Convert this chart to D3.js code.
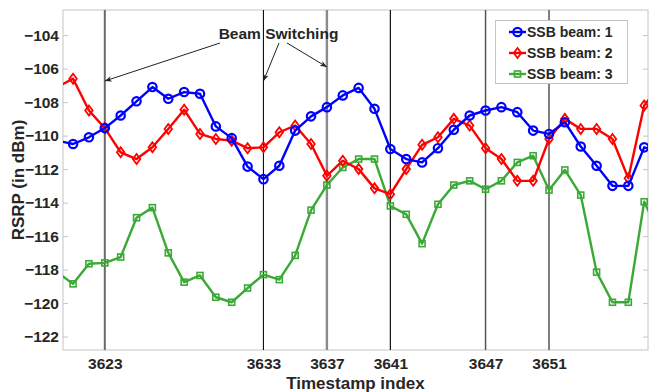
<!DOCTYPE html>
<html>
<head>
<meta charset="utf-8">
<script src="https://cdn.jsdelivr.net/npm/d3@7"></script>
<style>
  body { margin: 0; background: #fff; }
  svg text { font-family: "Liberation Sans", Arial, sans-serif; font-weight: bold; fill: #262626; }
</style>
</head>
<body>
<script>
// timestamps and RSRP per SSB beam
const stamps = d3.range(3620, 3659);
const beam1 = [-110.3, -110.5, -110.1, -109.55, -108.8, -107.95, -107.1, -107.8, -107.4, -107.5, -109.45,
  -110.15, -111.85, -112.6, -111.8, -109.7, -108.85, -108.3, -107.6, -107.15, -108.4, -110.8, -111.4,
  -111.6, -110.75, -109.65, -108.8, -108.5, -108.3, -108.6, -109.7, -109.9, -109.2, -110.65, -111.8,
  -113.0, -113.0, -110.7, -111.0];
const beam2 = [-107.1, -106.6, -108.5, -109.55, -111.0, -111.4, -110.7, -109.6, -108.45, -109.9, -110.2,
  -110.3, -110.75, -110.7, -109.8, -109.4, -110.5, -112.4, -111.5, -112.0, -113.15, -113.5, -112.0,
  -110.55, -110.1, -109.0, -109.4, -110.75, -111.4, -112.7, -112.7, -110.2, -109.0, -109.6, -109.6,
  -110.2, -112.55, -108.2, -107.0];
const beam3 = [-118.15, -118.85, -117.65, -117.6, -117.25, -114.9, -114.3, -117.0, -118.75, -118.35, -119.65,
  -119.95, -119.1, -118.3, -118.6, -117.15, -114.45, -112.95, -111.9, -111.4, -111.4, -114.2, -114.7,
  -116.45, -114.1, -112.95, -112.7, -113.2, -112.7, -111.6, -111.2, -113.25, -112.05, -113.55, -118.15,
  -119.95, -119.95, -113.95, -116.0];
const seriesNames = ["SSB beam: 1", "SSB beam: 2", "SSB beam: 3"];
const seriesColors = ["#0000ff", "#ff0000", "#3aa936"];
const switchStamps = [3623, 3633, 3637, 3641, 3647, 3651];
const yTicks = d3.range(-104, -123, -2);

const W = 649, H = 392;
const pL = 63, pR = 648, pT = 10, pB = 350;

const svg = d3.select("body").append("svg").attr("width", W).attr("height", H);

const x = d3.scaleLinear().domain([3620.365, 3657.24]).range([pL, pR]);
const y = d3.scaleLinear().domain([-122.8, -102.5]).range([pB, pT]);

svg.append("defs").append("clipPath").attr("id", "clip")
  .append("rect").attr("x", pL).attr("y", pT).attr("width", pR - pL).attr("height", pB - pT);

// box
svg.append("rect").attr("x", pL).attr("y", pT).attr("width", pR - pL).attr("height", pB - pT)
  .attr("fill", "none").attr("stroke", "#c4c4c4").attr("stroke-width", 1);

// y axis (ticks inward)
const yAx = svg.append("g").attr("transform", `translate(${pL},0)`)
  .call(d3.axisLeft(y).tickValues(yTicks).tickSize(-5).tickPadding(4).tickFormat(d3.format("d")));
yAx.select(".domain").remove();
yAx.selectAll("line").attr("stroke", "#c4c4c4");
yAx.selectAll("text").style("font-size", "15.5px").attr("fill", "#262626");

const yAxR = svg.append("g").attr("transform", `translate(${pR},0)`)
  .call(d3.axisRight(y).tickValues(yTicks).tickSize(-5).tickFormat(""));
yAxR.select(".domain").remove();
yAxR.selectAll("line").attr("stroke", "#c4c4c4");

// x axis
const xAx = svg.append("g").attr("transform", `translate(0,${pB})`)
  .call(d3.axisBottom(x).tickValues(switchStamps).tickSize(0).tickPadding(8).tickFormat(d3.format("d")));
xAx.select(".domain").remove();
xAx.selectAll("text").style("font-size", "15.5px").attr("fill", "#262626");

// beam switching lines
const lineStyle = [["#6a6a6a", 2], ["#111", 1.1], ["#8a8a8a", 2.4], ["#111", 1.2], ["#555", 1.5], ["#555", 1.5]];
svg.append("g").selectAll("line").data(switchStamps).join("line")
  .attr("x1", d => x(d)).attr("x2", d => x(d))
  .attr("y1", pT).attr("y2", pB)
  .attr("stroke", (d, i) => lineStyle[i][0])
  .attr("stroke-width", (d, i) => lineStyle[i][1]);

// series
const all = [beam1, beam2, beam3];
const line = d3.line().x((d, i) => x(stamps[i])).y(d => y(d));
const plot = svg.append("g").attr("clip-path", "url(#clip)");

function drawMarker(g, k, cx, cy, color) {
  if (k === 0) {
    g.append("circle").attr("cx", cx).attr("cy", cy).attr("r", 4.2)
      .attr("fill", "none").attr("stroke", color).attr("stroke-width", 2.2);
  } else if (k === 1) {
    const s = 5;
    g.append("path").attr("d", `M${cx},${cy - s}L${cx + s * 0.75},${cy}L${cx},${cy + s}L${cx - s * 0.75},${cy}Z`)
      .attr("fill", "none").attr("stroke", color).attr("stroke-width", 1.8);
  } else {
    g.append("rect").attr("x", cx - 3).attr("y", cy - 3).attr("width", 6).attr("height", 6)
      .attr("fill", "none").attr("stroke", color).attr("stroke-width", 1.6);
  }
}

[2, 1, 0].forEach(k => {
  const vals = all[k];
  plot.append("path").datum(vals).attr("d", line)
    .attr("fill", "none").attr("stroke", seriesColors[k]).attr("stroke-width", 2.4)
    .attr("stroke-linejoin", "round");
  const mg = plot.append("g");
  vals.forEach((v, i) => drawMarker(mg, k, x(stamps[i]), y(v), seriesColors[k]));
});

// legend
const lg = svg.append("g");
lg.append("rect").attr("x", 495.5).attr("y", 20.5).attr("width", 132).attr("height", 63)
  .attr("fill", "#fff").attr("stroke", "#c4c4c4");
seriesNames.forEach((name, k) => {
  const cy = 32 + k * 21;
  lg.append("line").attr("x1", 509).attr("x2", 526).attr("y1", cy).attr("y2", cy)
    .attr("stroke", seriesColors[k]).attr("stroke-width", 2.4);
  drawMarker(lg, k, 517.5, cy, seriesColors[k]);
  lg.append("text").attr("x", 527).attr("y", cy + 5).style("font-size", "14px").text(name);
});

// annotation
svg.append("defs").append("marker").attr("id", "arr")
  .attr("viewBox", "0 0 10 10").attr("refX", 10).attr("refY", 5)
  .attr("markerWidth", 7).attr("markerHeight", 7).attr("orient", "auto")
  .append("path").attr("d", "M0,1L10,5L0,9L3,5Z").attr("fill", "#222");
svg.append("text").attr("x", 278.5).attr("y", 39).attr("text-anchor", "middle")
  .style("font-size", "15.5px").text("Beam Switching");
const arrows = [[220, 43, x(3623), 81], [279, 43, x(3633), 81], [287, 43, x(3637), 67]];
svg.append("g").selectAll("line").data(arrows).join("line")
  .attr("x1", d => d[0]).attr("y1", d => d[1]).attr("x2", d => d[2]).attr("y2", d => d[3])
  .attr("stroke", "#222").attr("stroke-width", 1).attr("marker-end", "url(#arr)");

// axis labels
svg.append("text").attr("x", (pL + pR) / 2).attr("y", 389).attr("text-anchor", "middle")
  .style("font-size", "17px").text("Timestamp index");
svg.append("text").attr("transform", `translate(24,${(pT + pB) / 2}) rotate(-90)`)
  .attr("text-anchor", "middle").style("font-size", "17px").text("RSRP (in dBm)");
</script>
</body>
</html>
